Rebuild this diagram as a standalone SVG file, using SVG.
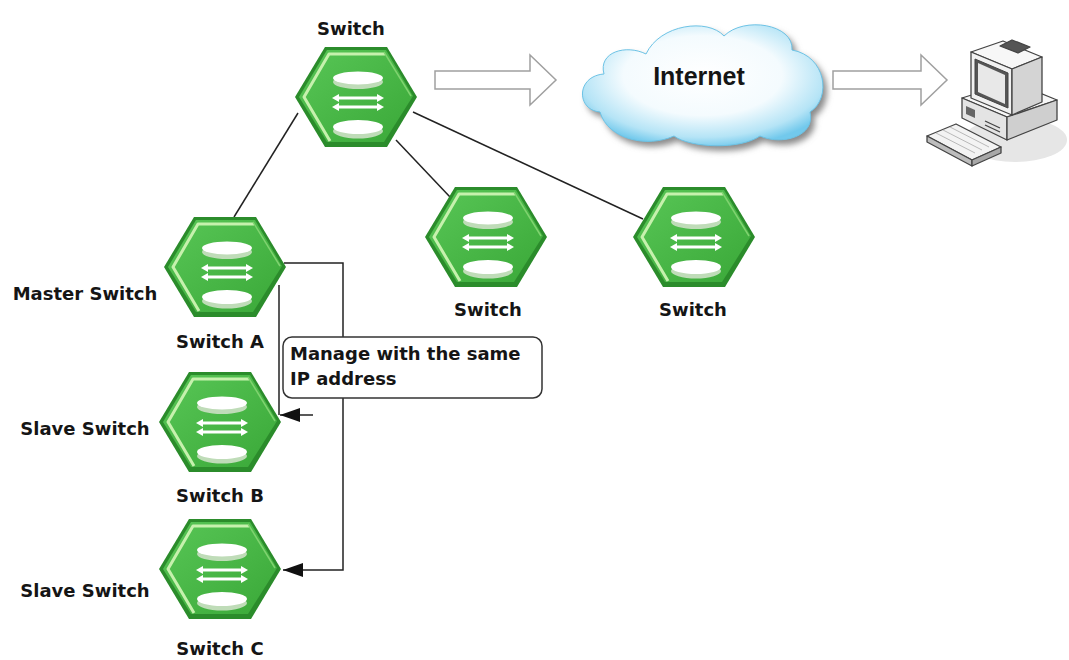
<svg xmlns="http://www.w3.org/2000/svg" xmlns:xlink="http://www.w3.org/1999/xlink" width="1069" height="660" viewBox="0 0 1069 660">
  <style>
    .lbl { font-family: "DejaVu Sans", "Liberation Sans", sans-serif; font-weight: bold; font-size: 18px; fill: #151515; }
    .cloud-lbl { font-family: "Liberation Sans", Arial, sans-serif; font-weight: bold; font-size: 25px; fill: #151515; }
    .link { stroke: #222; stroke-width: 1.5; fill: none; }
    .block-arrow { fill: #fff; stroke: #a0a0a0; stroke-width: 1.5; }
    .pc-line { stroke: #444; stroke-width: 1.3; stroke-linejoin: round; }
  </style>
  <defs>
    <linearGradient id="hexFill" x1="0" y1="0" x2="1" y2="1">
      <stop offset="0" stop-color="#58c656"/>
      <stop offset="1" stop-color="#3aa838"/>
    </linearGradient>
    <radialGradient id="cloudFill" cx="0.5" cy="0.42" r="0.6">
      <stop offset="0" stop-color="#ffffff"/>
      <stop offset="0.55" stop-color="#f4fbfe"/>
      <stop offset="0.85" stop-color="#b5e4f6"/>
      <stop offset="1" stop-color="#72c9ec"/>
    </radialGradient>
    <filter id="soft" x="-10%" y="-10%" width="130%" height="130%">
      <feGaussianBlur stdDeviation="3"/>
    </filter>
    <marker id="arrowHead" markerUnits="userSpaceOnUse" markerWidth="22" markerHeight="14" refX="20" refY="7" orient="auto">
      <path d="M0,0 L20,7 L0,14 Z" fill="#111"/>
    </marker>

    <!-- switch icon: hexagon with two disks and a double arrow pair -->
    <g id="switch-icon">
      <polygon points="-61,0 -31,-50 31,-50 61,0 31,50 -31,50" fill="#2b8c2b"/>
      <polygon points="-57,0 -29,-47 30,-47 57,-1 28,45 -29,45" fill="url(#hexFill)"/>
      <polyline points="-26,44 -52,0 -27,-43 29,-43" fill="none" stroke="#c6f1ad" stroke-width="3" stroke-linejoin="round"/>
      <polyline points="28,-45 55,-1" fill="none" stroke="#7fd36f" stroke-width="1.5"/>
      <!-- upper disk -->
      <ellipse cx="2" cy="-15" rx="25" ry="7" fill="#bfdcb8"/>
      <ellipse cx="2" cy="-19" rx="25" ry="6.5" fill="#ffffff"/>
      <!-- double arrows -->
      <g stroke="#ffffff" stroke-width="3.2">
        <line x1="-19" y1="1" x2="23" y2="1"/>
        <line x1="-19" y1="10" x2="23" y2="10"/>
      </g>
      <g fill="#ffffff">
        <path d="M-24,1 L-17,-3 L-17,5 Z"/>
        <path d="M28,1 L21,-3 L21,5 Z"/>
        <path d="M-24,10 L-17,6 L-17,14 Z"/>
        <path d="M28,10 L21,6 L21,14 Z"/>
      </g>
      <!-- lower disk -->
      <ellipse cx="2" cy="34" rx="25" ry="7.5" fill="#bfdcb8"/>
      <ellipse cx="2" cy="30" rx="25" ry="7" fill="#ffffff"/>
    </g>
  </defs>

  <rect width="1069" height="660" fill="#ffffff"/>

  <!-- connectors -->
  <g id="connectors">
    <line class="link" x1="298" y1="113" x2="234" y2="217"/>
    <line class="link" x1="396" y1="140" x2="450" y2="197"/>
    <line class="link" x1="413" y1="112" x2="643" y2="219"/>
    <!-- master to slaves -->
    <line class="link" x1="279" y1="285" x2="279" y2="415"/>
    <line class="link" x1="313" y1="415" x2="280" y2="415" marker-end="url(#arrowHead)"/>
    <polyline class="link" points="284,263 343,263 343,570 283,570" marker-end="url(#arrowHead)"/>
    <!-- internet flow -->
    <polygon class="block-arrow" points="435,71 530,71 530,55 556,80 530,105 530,89 435,89"/>
    <polygon class="block-arrow" points="833,71 921,71 921,55 947,80 921,105 921,89 833,89"/>
  </g>

  <!-- switches -->
  <g id="switch-top">
    <use xlink:href="#switch-icon" href="#switch-icon" transform="translate(356,97)"/>
    <text class="lbl" x="351" y="35" text-anchor="middle">Switch</text>
  </g>
  <g id="switch-a">
    <use xlink:href="#switch-icon" href="#switch-icon" transform="translate(225,267)"/>
    <text class="lbl" x="220" y="348" text-anchor="middle">Switch A</text>
    <text class="lbl" x="85" y="300" text-anchor="middle">Master Switch</text>
  </g>
  <g id="switch-mid">
    <use xlink:href="#switch-icon" href="#switch-icon" transform="translate(486,237)"/>
    <text class="lbl" x="488" y="316" text-anchor="middle">Switch</text>
  </g>
  <g id="switch-right">
    <use xlink:href="#switch-icon" href="#switch-icon" transform="translate(694,237)"/>
    <text class="lbl" x="693" y="316" text-anchor="middle">Switch</text>
  </g>
  <g id="switch-b">
    <use xlink:href="#switch-icon" href="#switch-icon" transform="translate(220,422)"/>
    <text class="lbl" x="220" y="502" text-anchor="middle">Switch B</text>
    <text class="lbl" x="85" y="435" text-anchor="middle">Slave Switch</text>
  </g>
  <g id="switch-c">
    <use xlink:href="#switch-icon" href="#switch-icon" transform="translate(220,569)"/>
    <text class="lbl" x="220" y="655" text-anchor="middle">Switch C</text>
    <text class="lbl" x="85" y="597" text-anchor="middle">Slave Switch</text>
  </g>

  <!-- note -->
  <g id="note">
    <rect x="283" y="337" width="259" height="61" rx="9" fill="#ffffff" stroke="#333" stroke-width="1.5"/>
    <text class="lbl" x="290" y="360">Manage with the same</text>
    <text class="lbl" x="290" y="385">IP address</text>
  </g>

  <!-- internet cloud -->
  <g id="internet">
    <path d="M600,112 C576,110 576,76 604,74 C598,52 626,44 646,54 C660,24 708,18 724,36 C744,16 794,24 792,50 C826,56 832,98 810,112 C816,136 782,146 760,136 C740,150 690,148 674,136 C648,148 608,140 600,112 Z" fill="#8a8a8a" transform="translate(4,5)" filter="url(#soft)"/>
    <path d="M600,112 C576,110 576,76 604,74 C598,52 626,44 646,54 C660,24 708,18 724,36 C744,16 794,24 792,50 C826,56 832,98 810,112 C816,136 782,146 760,136 C740,150 690,148 674,136 C648,148 608,140 600,112 Z" fill="url(#cloudFill)" stroke="#6cc3e6" stroke-width="1"/>
    <text class="cloud-lbl" x="699" y="85" text-anchor="middle">Internet</text>
  </g>

  <!-- workstation -->
  <g id="computer">
    <ellipse cx="1015" cy="140" rx="52" ry="22" fill="#e6e6e6"/>
    <!-- system unit -->
    <polygon class="pc-line" points="962,98 1013,82 1057,100 1007,117" fill="#f7f7f7"/>
    <polygon class="pc-line" points="962,98 1007,117 1007,140 962,118" fill="#e4e4e4"/>
    <polygon class="pc-line" points="1007,117 1057,100 1057,120 1007,140" fill="#cfcfcf"/>
    <polygon points="966,106 975,110 975,118 966,114" fill="#666"/>
    <line class="pc-line" x1="985" y1="121" x2="1000" y2="128"/>
    <line class="pc-line" x1="985" y1="125" x2="1000" y2="132"/>
    <!-- monitor -->
    <polygon class="pc-line" points="971,52 1003,41 1042,57 1012,69" fill="#f7f7f7"/>
    <polygon class="pc-line" points="1000,46 1012,40 1030,47 1018,53" fill="#555"/>
    <polygon class="pc-line" points="971,52 1012,69 1012,115 971,98" fill="#f1f1f1"/>
    <polygon class="pc-line" points="1012,69 1042,57 1042,102 1012,115" fill="#d4d4d4"/>
    <polygon points="975,59 1008,73 1008,108 975,94" fill="#555" stroke="#444" stroke-width="1"/>
    <polygon points="978,63 1005,75 1005,104 978,92" fill="#e8e8e8"/>
    <!-- keyboard -->
    <polygon class="pc-line" points="927,136 956,124 1001,147 972,160" fill="#f3f3f3"/>
    <polygon class="pc-line" points="927,136 972,160 972,166 927,142" fill="#bdbdbd"/>
    <polygon class="pc-line" points="972,160 1001,147 1001,153 972,166" fill="#a8a8a8"/>
    <g stroke="#aaa" stroke-width="0.8">
      <line x1="936" y1="133" x2="975" y2="153"/>
      <line x1="943" y1="130" x2="982" y2="150"/>
      <line x1="950" y1="127" x2="989" y2="147"/>
    </g>
  </g>
</svg>
